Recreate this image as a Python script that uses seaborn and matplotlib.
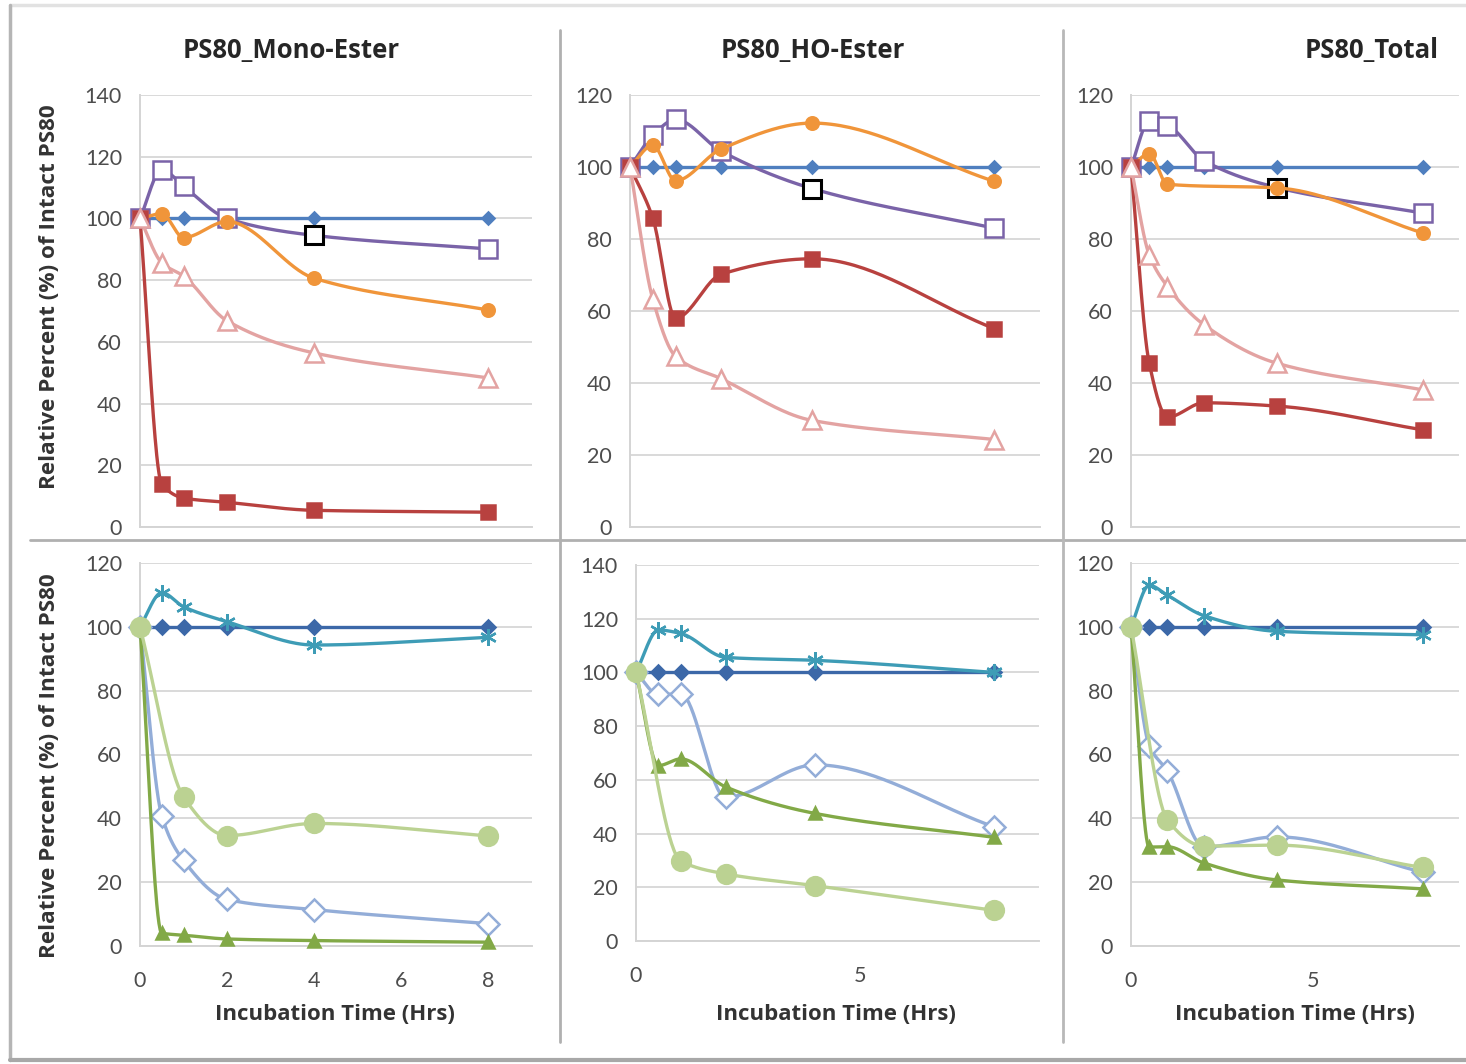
import numpy as np
import pandas as pd
import seaborn as sns
import matplotlib.pyplot as plt
from matplotlib.lines import Line2D

# ---------------------------------------------------------------- data
hours = [0, 0.5, 1, 2, 4, 8]

# Top row: PS80 series (relative % of intact PS80)
mono_ctrl   = [100, 100, 100, 100, 100, 100]
mono_purple = [100, 115.8, 110.4, 100, 94.5, 90.1]
mono_orange = [100, 101.5, 93.8, 99.0, 80.6, 70.3]
mono_red    = [100, 13.9, 9.4, 8.0, 5.4, 4.8]
mono_pink   = [100, 85.6, 81.3, 66.8, 56.4, 48.3]

ho_ctrl   = [100, 100, 100, 100, 100, 100]
ho_purple = [100, 108.8, 113.2, 104.4, 94.0, 83.0]
ho_orange = [100, 106.0, 96.2, 105.0, 112.2, 96.0]
ho_red    = [100, 85.8, 58.0, 70.2, 74.5, 55.1]
ho_pink   = [100, 63.3, 47.4, 41.2, 29.6, 24.3]

tot_ctrl   = [100, 100, 100, 100, 100, 100]
tot_purple = [100, 112.7, 111.5, 101.8, 94.3, 87.2]
tot_orange = [100, 103.7, 95.2, np.nan, 94.2, 81.7]
tot_red    = [100, 45.5, 30.5, 34.5, 33.6, 27.0]
tot_pink   = [100, 75.6, 66.8, 56.2, 45.5, 38.1]

# Bottom row
mono_ctrl2 = [100, 100, 100, 100, 100, 100]
mono_star  = [100, 110.7, 106.3, 101.6, 94.3, 96.7]
mono_odiam = [100, 40.8, 26.8, 14.6, 11.4, 7.0]
mono_circ  = [100, np.nan, 46.7, 34.6, 38.4, 34.5]
mono_tri   = [100, 4.0, 3.4, 2.2, 1.7, 1.2]

ho_ctrl2 = [100, 100, 100, 100, 100, 100]
ho_star  = [100, 115.8, 114.5, 105.6, 104.5, 100.0]
ho_odiam = [100, 91.8, 92.0, 53.5, 65.6, 42.5]
ho_circ  = [100, np.nan, 29.8, 25.0, 20.6, 11.4]
ho_tri   = [100, 65.3, 67.8, 57.4, 47.5, 38.6]

tot_ctrl2 = [100, 100, 100, 100, 100, 100]
tot_star  = [100, 113.0, 109.9, 103.5, 98.6, 97.5]
tot_odiam = [100, 62.8, 54.8, 31.0, 34.2, 23.1]
tot_circ  = [100, np.nan, 39.5, 31.3, 31.6, 24.6]
tot_tri   = [100, 31.0, 31.1, 26.0, 20.7, 17.9]

titles = ["PS80_Mono-Ester", "PS80_HO-Ester", "PS80_Total"]
ylabel = "Relative Percent (%) of Intact PS80"
xlabel = "Incubation Time (Hrs)"

# ---------------------------------------------------------------- style
sns.set_theme(style="white")
plt.rcParams['font.family'] = ['Lato', 'DejaVu Sans']
BOLD = ['Open Sans', 'DejaVu Sans']

W, H = 1466, 1064
fig = plt.figure(figsize=(W / 100, H / 100), dpi=100)
fig.patch.set_facecolor('white')


def px_box(left, top, right, bottom):
    return [left / W, 1 - bottom / H, (right - left) / W, (bottom - top) / H]


def smooth(x, y, n=40):
    """Shape-preserving (Fritsch-Carlson) cubic through the measured points."""
    x = np.asarray(x, float)
    y = np.asarray(y, float)
    keep = ~np.isnan(y)
    x, y = x[keep], y[keep]
    h = np.diff(x)
    d = np.diff(y) / h
    m = np.zeros_like(y)
    m[0], m[-1] = d[0], d[-1]
    for k in range(1, len(x) - 1):
        if d[k - 1] * d[k] <= 0:
            m[k] = 0.0
        else:
            w1 = 2 * h[k] + h[k - 1]
            w2 = h[k] + 2 * h[k - 1]
            m[k] = (w1 + w2) / (w1 / d[k - 1] + w2 / d[k])
    xs, ys = [x[:1]], [y[:1]]
    for k in range(len(x) - 1):
        t = np.linspace(0, 1, n)[1:]
        h00 = 2 * t ** 3 - 3 * t ** 2 + 1
        h10 = t ** 3 - 2 * t ** 2 + t
        h01 = -2 * t ** 3 + 3 * t ** 2
        h11 = t ** 3 - t ** 2
        xs.append(x[k] + t * h[k])
        ys.append(h00 * y[k] + h10 * h[k] * m[k] + h01 * y[k + 1] + h11 * h[k] * m[k + 1])
    return pd.DataFrame({'x': np.concatenate(xs), 'y': np.concatenate(ys)})


def series(ax, y, color, marker, ms, face=None, mew=1.8, lw=2.4, z=2):
    sns.lineplot(data=smooth(hours, y), x='x', y='y', sort=False, estimator=None,
                 color=color, lw=lw, ax=ax, clip_on=False, zorder=z)
    pts = pd.DataFrame({'x': hours, 'y': y}).dropna()
    sns.lineplot(data=pts, x='x', y='y', sort=False, estimator=None, ax=ax,
                 color=color, linestyle='none', marker=marker, markersize=ms,
                 markerfacecolor=face if face is not None else color,
                 markeredgecolor=color, markeredgewidth=mew,
                 clip_on=False, zorder=z + 0.5)


def style(ax, ymax, xticks=None):
    ax.set_xlim(0, 9)
    ax.set_ylim(0, ymax)
    ax.set_yticks(np.arange(0, ymax + 1, 20))
    ax.grid(axis='y', color='#D9D9D9', lw=1.4)
    ax.grid(axis='x', visible=False)
    ax.set_axisbelow(True)
    for s in ['top', 'right']:
        ax.spines[s].set_visible(False)
    for s in ['left', 'bottom']:
        ax.spines[s].set_color('#D4D4D4')
        ax.spines[s].set_linewidth(1.4)
    ax.tick_params(length=0, labelsize=15.5, colors='#4D4D4D', pad=13)
    if xticks is None:
        ax.set_xticks([])
    else:
        ax.set_xticks(xticks)
        ax.tick_params(axis='x', pad=18)
    ax.set_xlabel('')
    ax.set_ylabel('')
    ax.set_facecolor('white')


C_BLUE = '#4F7FBF'
C_PURPLE = '#7A63A8'
C_ORANGE = '#F0953A'
C_RED = '#B8413F'
C_PINK = '#E3A3A2'
C_DBLUE = '#3C68A8'
C_TEAL = '#3E9CB6'
C_LBLUE = '#93ADD8'
C_LGREEN = '#BBD292'
C_GREEN = '#82A947'

top_boxes = [px_box(140, 95, 532, 527), px_box(630, 95, 1040, 527), px_box(1131, 95, 1459, 527)]
bot_boxes = [px_box(140, 563, 532, 946), px_box(636, 565, 1039, 941), px_box(1131, 563, 1459, 946)]

top_data = [
    (mono_ctrl, mono_purple, mono_orange, mono_red, mono_pink, 140),
    (ho_ctrl, ho_purple, ho_orange, ho_red, ho_pink, 120),
    (tot_ctrl, tot_purple, tot_orange, tot_red, tot_pink, 120),
]
bot_data = [
    (mono_ctrl2, mono_star, mono_odiam, mono_circ, mono_tri, 120, [0, 2, 4, 6, 8]),
    (ho_ctrl2, ho_star, ho_odiam, ho_circ, ho_tri, 140, [0, 5]),
    (tot_ctrl2, tot_star, tot_odiam, tot_circ, tot_tri, 120, [0, 5]),
]

for bx, (ctrl, purple, orange, red, pink, ymax) in zip(top_boxes, top_data):
    ax = fig.add_axes(bx)
    series(ax, ctrl, C_BLUE, 'D', 6.5, z=2)
    series(ax, purple, C_PURPLE, 's', 12.5, face='white', z=3)
    # highlighted 4 h sample on the purple series
    ax.plot([hours[4]], [purple[4]], linestyle='none', marker='s', ms=12.5,
            mfc='white', mec='black', mew=2.2, zorder=3.8)
    series(ax, orange, C_ORANGE, 'o', 9, z=4)
    series(ax, red, C_RED, 's', 9.5, z=5)
    series(ax, pink, C_PINK, '^', 13, face='white', z=6)
    style(ax, ymax)

for bx, (ctrl, star, odiam, circ, tri, ymax, xt) in zip(bot_boxes, bot_data):
    ax = fig.add_axes(bx)
    series(ax, ctrl, C_DBLUE, 'D', 7.5, z=2)
    series(ax, star, C_TEAL, (6, 2, 0), 12, mew=1.7, z=3)
    series(ax, odiam, C_LBLUE, 'D', 11.5, face='white', z=4)
    series(ax, tri, C_GREEN, '^', 9, z=5)
    series(ax, circ, C_LGREEN, 'o', 13.5, z=6)
    style(ax, ymax, xt)

# ---------------------------------------------------------------- text
title_x = [291, 813, 1372]
for tx, t in zip(title_x, titles):
    fig.text(tx / W, 1 - 50 / H, t, ha='center', va='center', fontsize=18.5,
             fontweight='bold', family=BOLD, color='#262626')

for cy in [297, 766]:
    fig.text(50 / W, 1 - cy / H, ylabel, rotation=90, ha='center', va='center',
             fontsize=16.2, fontweight='bold', family=BOLD, color='#333333')

for cx in [335, 836, 1295]:
    fig.text(cx / W, 1 - 1015 / H, xlabel, ha='center', va='center',
             fontsize=16, fontweight='bold', family=BOLD, color='#333333')

# ---------------------------------------------------------------- panel frame
def fline(x0, y0, x1, y1, color='#BDBDBD', lw=2.0):
    fig.add_artist(Line2D([x0 / W, x1 / W], [1 - y0 / H, 1 - y1 / H],
                          color=color, lw=lw, transform=fig.transFigure))

fline(10, 5, 1466, 5, color='#E2E2E2', lw=2.5)
fline(10, 5, 10, 1060, color='#B5B5B5', lw=2.5)
fline(10, 1060, 1466, 1060, color='#A8A8A8', lw=3.0)
fline(30, 540, 1466, 540, color='#B0B0B0', lw=2.0)
fline(560, 30, 560, 1042, color='#B0B0B0', lw=2.0)
fline(1063, 30, 1063, 1042, color='#B8B8B8', lw=2.0)

fig.savefig('out.png', dpi=100, facecolor='white')
